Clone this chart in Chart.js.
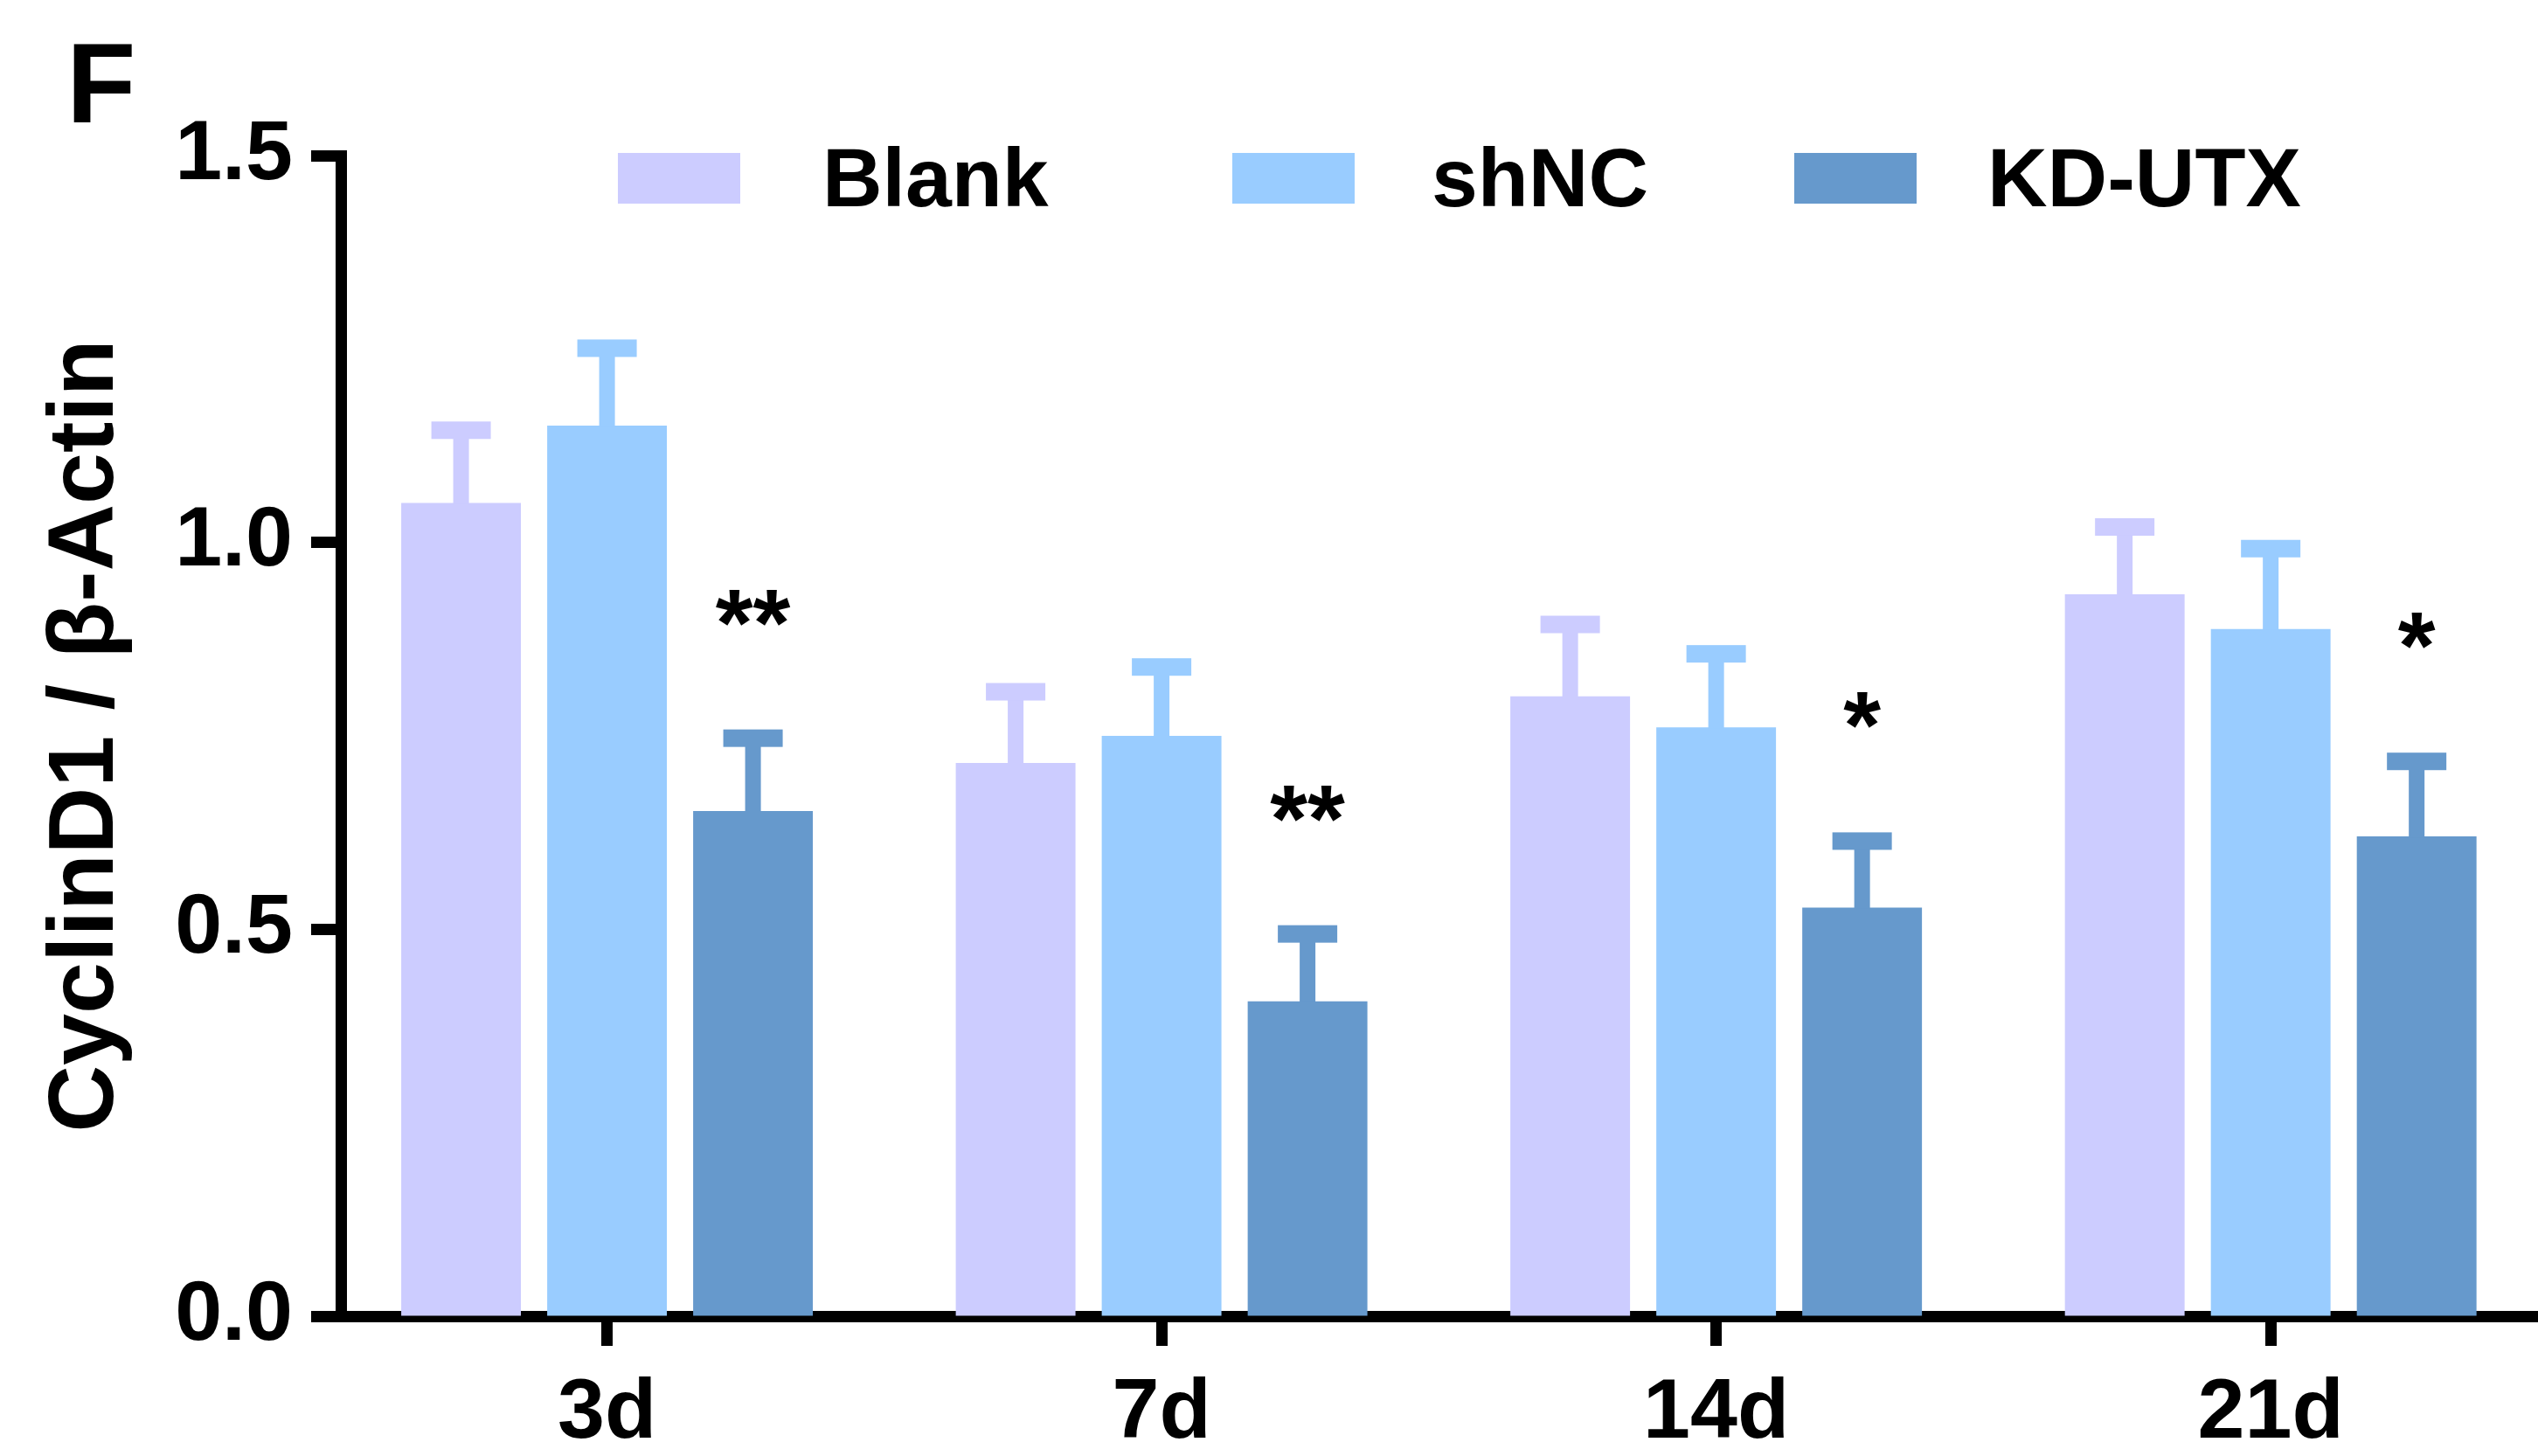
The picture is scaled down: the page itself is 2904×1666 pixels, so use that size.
<!DOCTYPE html>
<html><head><meta charset="utf-8">
<script src="https://cdn.jsdelivr.net/npm/chart.js@4.4.0/dist/chart.umd.min.js"></script>
<style>html,body{margin:0;padding:0;background:#fff;overflow:hidden}#wrap{position:relative;width:2904px;height:1666px}</style>
</head><body><div id="wrap"><canvas id="c" width="2904" height="1666"></canvas></div>
<script>
// ---- data ----
const categories = ['3d', '7d', '14d', '21d'];
const seriesNames = ['Blank', 'shNC', 'KD-UTX'];
const blankMean = [1.051, 0.715, 0.801, 0.933];
const blankErr  = [0.094, 0.092, 0.093, 0.087];
const shNCMean  = [1.151, 0.750, 0.761, 0.888];
const shNCErr   = [0.100, 0.089, 0.095, 0.104];
const kdMean    = [0.653, 0.407, 0.528, 0.620];
const kdErr     = [0.094, 0.087, 0.086, 0.097];
const significance = ['**', '**', '*', '*'];
const yTickValues = [0, 0.5, 1.0, 1.5];
const yTitle = 'CyclinD1 / \u03B2-Actin';
const panelLabel = 'F';
const seriesColors = ['#CCCCFF', '#99CCFF', '#6699CC'];

const FONT = "'Liberation Sans', Arial, Helvetica, sans-serif";
const means = [blankMean, shNCMean, kdMean];
const errs = [blankErr, shNCErr, kdErr];

const datasets = seriesNames.map((name, k) => ({
  label: name,
  data: means[k].map((v, i) => ({x: i, y: v})),
  backgroundColor: seriesColors[k],
  borderWidth: 0,
  categoryPercentage: 0.7896,
  barPercentage: 0.82
}));

const errorBarPlugin = {
  id: 'errorBars',
  afterDatasetsDraw(chart) {
    const ctx = chart.ctx, ys = chart.scales.y;
    const stemW = 18, capW = 68, capT = 20;
    chart.data.datasets.forEach((ds, di) => {
      const meta = chart.getDatasetMeta(di);
      meta.data.forEach((bar, i) => {
        const top = ys.getPixelForValue(means[di][i] + errs[di][i]);
        ctx.save();
        ctx.fillStyle = ds.backgroundColor;
        ctx.fillRect(bar.x - stemW / 2, top, stemW, bar.y - top + 1);
        ctx.fillRect(bar.x - capW / 2, top - capT / 2, capW, capT);
        ctx.restore();
      });
    });
  }
};

const annotPlugin = {
  id: 'annotations',
  afterDraw(chart) {
    const ctx = chart.ctx, ys = chart.scales.y;
    ctx.save();
    ctx.fillStyle = '#000';
    // significance marks over KD-UTX bars
    const meta = chart.getDatasetMeta(2);
    ctx.font = `bold 110px ${FONT}`;
    ctx.textAlign = 'center';
    ctx.textBaseline = 'alphabetic';
    meta.data.forEach((bar, i) => {
      const top = ys.getPixelForValue(kdMean[i] + kdErr[i]);
      ctx.fillText(significance[i], bar.x, top - 158 + 63);
    });
    // legend
    const swX = [707, 1410, 2053], txX = [941, 1638, 2274];
    ctx.font = `bold 95px ${FONT}`;
    ctx.textAlign = 'left';
    seriesNames.forEach((name, k) => {
      ctx.fillStyle = seriesColors[k];
      ctx.fillRect(swX[k], 175, 140, 58);
      ctx.fillStyle = '#000';
      ctx.fillText(name, txX[k], 236);
    });
    // panel label
    ctx.font = `bold 130px ${FONT}`;
    ctx.fillText(panelLabel, 76, 140);
    ctx.restore();
  }
};

new Chart(document.getElementById('c'), {
  type: 'bar',
  data: {datasets},
  options: {
    responsive: false,
    animation: false,
    devicePixelRatio: 1,
    layout: {padding: {top: 178, right: 0, bottom: 0, left: 0}},
    plugins: {legend: {display: false}, tooltip: {enabled: false}},
    scales: {
      x: {
        type: 'linear',
        min: -0.48,
        max: 3.482,
        offset: false,
        afterBuildTicks: s => { s.ticks = categories.map((c, i) => ({value: i})); },
        afterFit: s => { s.height = 160; },
        ticks: {
          callback: (v, i) => categories[i],
          font: {family: FONT, size: 97, weight: 'bold'},
          color: '#000',
          padding: 20,
          maxRotation: 0,
          autoSkip: false
        },
        grid: {display: true, offset: false, drawOnChartArea: false, drawTicks: true, tickLength: 34, tickWidth: 13, tickColor: '#000', color: '#000'},
        border: {display: true, width: 13, color: '#000'}
      },
      y: {
        type: 'linear',
        min: 0,
        max: 1.5,
        afterBuildTicks: s => { s.ticks = yTickValues.map(v => ({value: v})); },
        afterFit: s => { s.width = 390; },
        ticks: {
          callback: v => Number(v).toFixed(1),
          font: {family: FONT, size: 97, weight: 'bold'},
          color: '#000',
          padding: 21
        },
        grid: {display: true, drawOnChartArea: false, drawTicks: true, tickLength: 34, tickWidth: 13, tickColor: '#000', color: '#000'},
        border: {display: true, width: 13, color: '#000'},
        title: {
          display: true,
          text: yTitle,
          font: {family: FONT, size: 106, weight: 'bold'},
          color: '#000',
          padding: {top: 36, bottom: 0}
        }
      }
    }
  },
  plugins: [errorBarPlugin, annotPlugin]
});
</script>
</body></html>
